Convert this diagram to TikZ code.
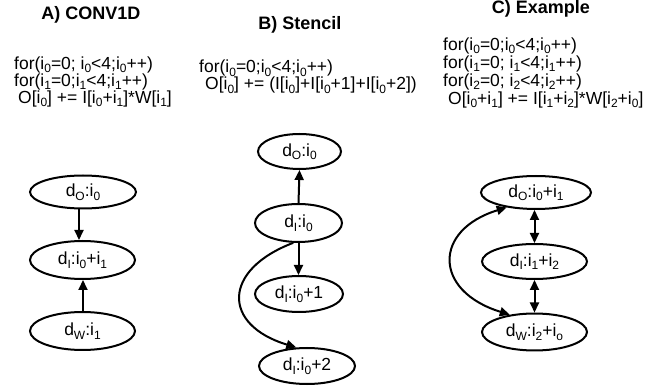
\documentclass[tikz,border=0pt]{standalone}
\usepackage{fontspec}
\setmainfont{Liberation Sans}
\usetikzlibrary{shapes.geometric,arrows.meta}
\newcommand\subx[1]{\raisebox{-0.2em}{\fontsize{12}{12}\selectfont #1}}
\tikzset{
  ell/.style={draw, ellipse, line width=2pt, inner sep=0pt, font=\fontsize{17.5}{20}\selectfont},
  arr/.style={line width=2pt, -{Triangle[length=10pt,width=9pt]}},
  darr/.style={line width=2pt, {Triangle[length=10pt,width=9pt]}-{Triangle[length=10pt,width=9pt]}},
  code/.style={anchor=north west, inner sep=0pt, align=left},
  ttl/.style={anchor=base, inner sep=0pt, font=\bfseries\fontsize{18}{21}\selectfont}
}
\begin{document}
\begin{tikzpicture}[x=1pt,y=-1pt]
\useasboundingbox (0,0) rectangle (662,390);
% titles
\node[ttl] (tA) at (91,20) {A) CONV1D};
\node[ttl] (tB) at (300,30) {B) Stencil};
\node[ttl] (tC) at (541,14) {C) Example};
% code A
\node[code, font=\fontsize{17.5}{17}\selectfont] (cA) at (14,56.5) {for(i\subx{0}=0; i\subx{0}<4;i\subx{0}++)\\
for(i\subx{1}=0;i\subx{1}<4;i\subx{1}++)\\
\hspace{4pt}O[i\subx{0}] += I[i\subx{0}+i\subx{1}]*W[i\subx{1}]};
% code B
\node[code, font=\fontsize{17.5}{17}\selectfont] (cB) at (199,60) {for(i\subx{0}=0;i\subx{0}<4;i\subx{0}++)\\
\hspace{6pt}O[i\subx{0}] += (I[i\subx{0}]+I[i\subx{0}+1]+I[i\subx{0}+2])};
% code C
\node[code, font=\fontsize{17.5}{18}\selectfont] (cC) at (443,37.5) {for(i\subx{0}=0;i\subx{0}<4;i\subx{0}++)\\
for(i\subx{1}=0; i\subx{1}<4;i\subx{1}++)\\
for(i\subx{2}=0; i\subx{2}<4;i\subx{2}++)\\
\hspace{5pt}O[i\subx{0}+i\subx{1}] += I[i\subx{1}+i\subx{2}]*W[i\subx{2}+i\subx{0}]};
% graph A
\node[ell, minimum width=106pt, minimum height=33pt] (Ao) at (83,192) {d\subx{O}:i\subx{0}};
\node[ell, minimum width=105pt, minimum height=38pt] (Ai) at (82.5,260) {d\subx{I}:i\subx{0}+i\subx{1}};
\node[ell, minimum width=105pt, minimum height=38pt] (Aw) at (82.5,331) {d\subx{W}:i\subx{1}};
\draw[arr] ([xshift=-4pt]Ao.south) -- ([xshift=-3.5pt]Ai.north);
\draw[arr] ([xshift=0.5pt]Aw.north) -- ([xshift=0.5pt]Ai.south);
% graph B
\node[ell, minimum width=83pt, minimum height=35pt] (Bo) at (299.5,151.5) {d\subx{O}:i\subx{0}};
\node[ell, minimum width=87pt, minimum height=38pt] (Bi) at (298.5,223) {d\subx{I}:i\subx{0}};
\node[ell, minimum width=88pt, minimum height=36pt] (Bi1) at (299,294) {d\subx{I}:i\subx{0}+1};
\node[ell, minimum width=96pt, minimum height=36pt] (Bi2) at (307,366) {d\subx{I}:i\subx{0}+2};
\draw[arr] (Bi.north) -- (Bo.south);
\draw[arr] (Bi.south) -- (Bi.south |- Bi1.north);
\draw[arr] (Bi.255) .. controls (222,270) and (222,325) .. (Bi2.120);
% graph C
\node[ell, minimum width=110pt, minimum height=33pt] (Co) at (536,192.5) {d\subx{O}:i\subx{0}+i\subx{1}};
\node[ell, minimum width=105pt, minimum height=35pt] (Ci) at (534.5,261.5) {d\subx{I}:i\subx{1}+i\subx{2}};
\node[ell, minimum width=105pt, minimum height=37pt] (Cw) at (534.5,332) {d\subx{W}:i\subx{2}+i\subx{o}};
\draw[darr] (Ci.north) -- (Ci.north |- Co.south);
\draw[darr] (Cw.north) -- (Ci.south);
\draw[darr] (Co.207) .. controls (433,230) and (433,291) .. (Cw.145);
\end{tikzpicture}
\end{document}
